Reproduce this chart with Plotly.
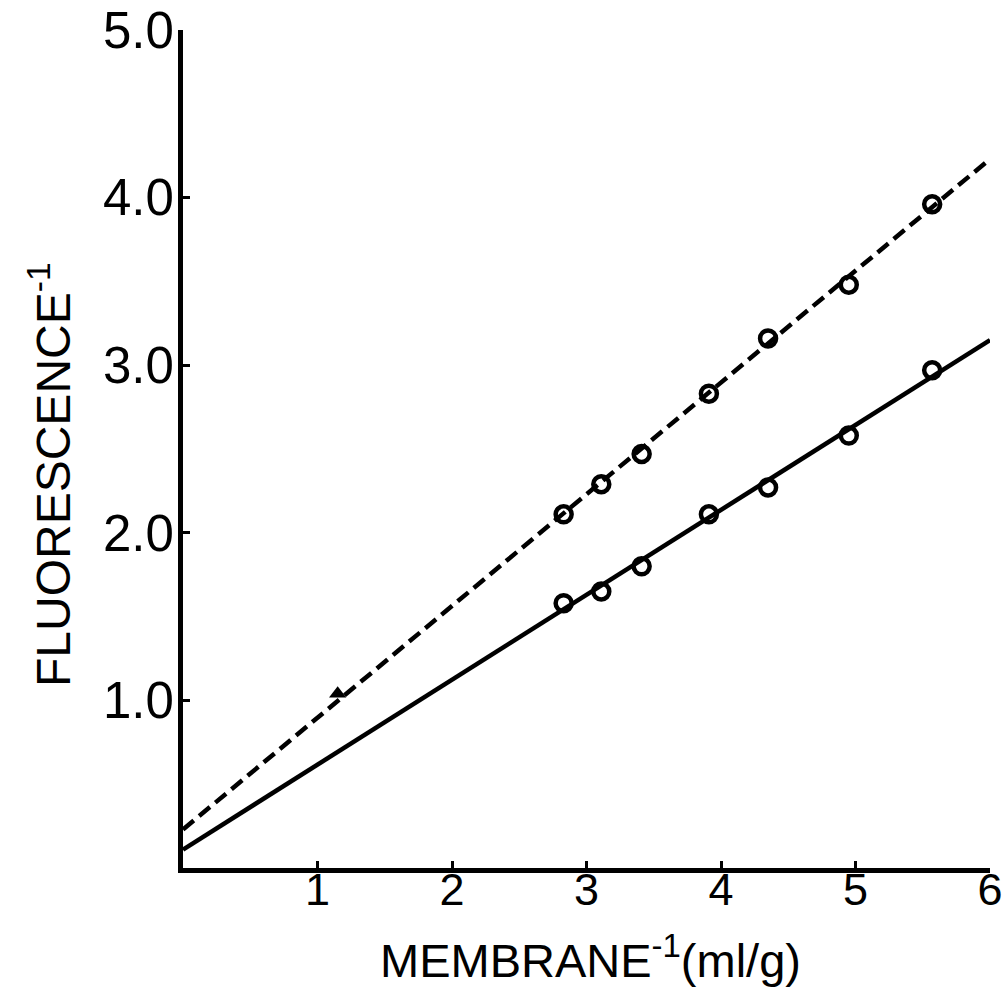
import plotly.graph_objects as go

# Data
membrane_inv = [2.83, 3.11, 3.41, 3.91, 4.35, 4.95, 5.57]
fluor_dashed = [2.11, 2.29, 2.47, 2.83, 3.16, 3.48, 3.96]
fluor_solid = [1.58, 1.65, 1.80, 2.11, 2.27, 2.58, 2.97]

fit_x = [0, 6]
fit_dashed = [0.23, 4.23]
fit_solid = [0.11, 3.15]

extra_x = [1.15]
extra_y = [1.04]

x_tickvals = [1, 2, 3, 4, 5, 6]
x_ticktext = ["1", "2", "3", "4", "5", "6"]
y_tickvals = [1, 2, 3, 4, 5]
y_ticktext = ["1.0", "2.0", "3.0", "4.0", "5.0"]

FONT = "Liberation Sans, Arial, sans-serif"

fig = go.Figure()
fig.add_trace(go.Scatter(x=fit_x, y=fit_dashed, mode="lines",
                         line=dict(color="black", width=4.5, dash="14px,7px"),
                         showlegend=False, hoverinfo="skip"))
fig.add_trace(go.Scatter(x=fit_x, y=fit_solid, mode="lines",
                         line=dict(color="black", width=4.5),
                         showlegend=False, hoverinfo="skip"))
fig.add_trace(go.Scatter(x=membrane_inv, y=fluor_dashed, mode="markers",
                         marker=dict(symbol="circle-open", size=16, color="black",
                                     line=dict(width=4.5, color="black")),
                         showlegend=False))
fig.add_trace(go.Scatter(x=membrane_inv, y=fluor_solid, mode="markers",
                         marker=dict(symbol="circle-open", size=16, color="black",
                                     line=dict(width=4.5, color="black")),
                         showlegend=False))
fig.add_trace(go.Scatter(x=extra_x, y=extra_y, mode="markers",
                         marker=dict(symbol="triangle-up", size=15, color="black"),
                         showlegend=False))

fig.update_layout(
    width=1006, height=989,
    margin=dict(l=183, r=16, t=30, b=121),
    paper_bgcolor="white", plot_bgcolor="white",
    font=dict(family=FONT, color="black"),
    xaxis=dict(range=[0, 6], tickvals=x_tickvals, ticktext=x_ticktext,
               showline=True, linecolor="black", linewidth=5,
               ticks="inside", ticklen=7, tickwidth=3, tickcolor="black",
               showgrid=False, zeroline=False, automargin=False,
               ticklabelstandoff=-22,
               tickfont=dict(size=45, family=FONT, color="black")),
    yaxis=dict(range=[0, 5], tickvals=y_tickvals, ticktext=y_ticktext,
               showline=True, linecolor="black", linewidth=5,
               ticks="inside", ticklen=7, tickwidth=3, tickcolor="black",
               showgrid=False, zeroline=False, automargin=False,
               ticklabelstandoff=-6,
               tickfont=dict(size=51, family=FONT, color="black")),
    annotations=[
        dict(text="MEMBRANE<sup>-1</sup>(ml/g)", xref="paper", yref="paper",
             x=(590 - 183) / 807, y=0, xanchor="center", yanchor="middle",
             yshift=-89,
             showarrow=False, font=dict(size=47, family=FONT, color="black")),
        dict(text="FLUORESCENCE<sup>-1</sup>", xref="paper", yref="paper",
             x=(50 - 183) / 807, y=(868 - 475) / 838, xanchor="center", yanchor="middle",
             textangle=-90, showarrow=False,
             font=dict(size=48, family=FONT, color="black")),
    ],
)

fig.write_html("out.html")
